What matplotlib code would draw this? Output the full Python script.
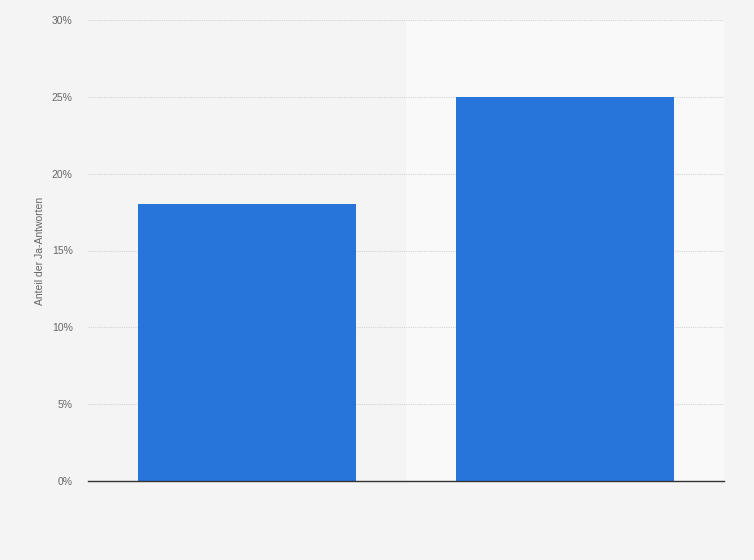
import matplotlib.pyplot as plt
from matplotlib.ticker import FuncFormatter

plt.rcParams['font.family'] = ['Liberation Sans', 'DejaVu Sans']

# Daten
kategorien = ['A', 'B']
werte = [18, 25]
y_ticks = [0, 5, 10, 15, 20, 25, 30]

fig = plt.figure(figsize=(7.54, 5.6), dpi=100)
fig.patch.set_facecolor('#f4f4f4')
ax = fig.add_axes([88/754, 79/560, 636/754, 461/560])
ax.set_facecolor('#f4f4f4')

x = list(range(len(kategorien)))
# hellere Hintergrundbaender fuer jede zweite Kategorie
for i in x:
    if i % 2 == 1:
        ax.axvspan(i - 0.5, i + 0.5, color='#f9f9f9', zorder=0)

ax.bar(x, werte, width=0.686, color='#2775db', zorder=3)

ax.set_xlim(-0.5, len(kategorien) - 0.5)
ax.set_ylim(0, 30)
ax.set_yticks(y_ticks)
ax.yaxis.set_major_formatter(FuncFormatter(lambda v, p: f'{v:.0f}%'))
ax.set_xticks([])
ax.grid(axis='y', color='#d4d4d4', linestyle=(0, (1, 1)), linewidth=0.8, zorder=1)
ax.tick_params(axis='y', length=0, labelsize=7.5, labelcolor='#666666', pad=11)
for s in ['top', 'right', 'left']:
    ax.spines[s].set_visible(False)
ax.spines['bottom'].set_color('#333333')
ax.spines['bottom'].set_linewidth(1)
ax.spines['bottom'].set_zorder(4)

ax.set_ylabel('Anteil der Ja-Antworten', fontsize=7.5, color='#666666', labelpad=5)

fig.savefig('out.png', dpi=100, facecolor=fig.get_facecolor())
